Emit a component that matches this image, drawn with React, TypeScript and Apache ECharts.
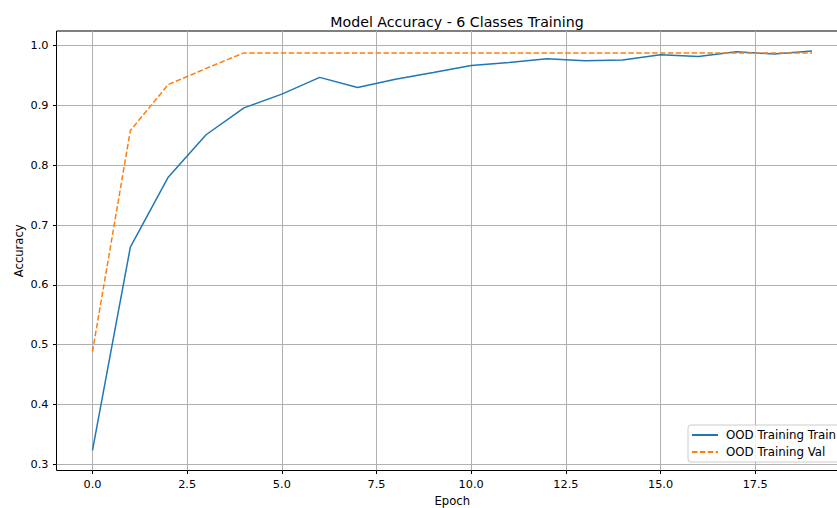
import React, { useEffect, useRef } from "react";
import * as echarts from "echarts";

const epochs = [0, 1, 2, 3, 4, 5, 6, 7, 8, 9, 10, 11, 12, 13, 14, 15, 16, 17, 18, 19];
const trainAcc = [0.323, 0.663, 0.780, 0.851, 0.896, 0.919, 0.947, 0.930, 0.944, 0.955, 0.967, 0.972, 0.978, 0.975, 0.976, 0.985, 0.982, 0.990, 0.986, 0.991];
const valAcc = [0.488, 0.858, 0.935, 0.962, 0.988, 0.988, 0.988, 0.988, 0.988, 0.988, 0.988, 0.988, 0.988, 0.988, 0.988, 0.988, 0.988, 0.988, 0.988, 0.988];
const xTicks = [0, 2.5, 5, 7.5, 10, 12.5, 15, 17.5];
const yTicks = [0.3, 0.4, 0.5, 0.6, 0.7, 0.8, 0.9, 1.0];
const seriesNames = ["OOD Training Train", "OOD Training Val"];

const FONT = "DejaVu Sans";
const LABEL_SIZE = 11.3;

export default function App() {
  const ref = useRef<HTMLDivElement>(null);
  useEffect(() => {
    if (!ref.current) return;
    const chart = echarts.init(ref.current, undefined, { renderer: "svg" });
    chart.setOption({
      animation: false,
      backgroundColor: "#ffffff",
      textStyle: { fontFamily: FONT },
      title: {
        text: "Model Accuracy - 6 Classes Training",
        left: 452,
        textAlign: "center",
        top: 10,
        textStyle: { fontFamily: FONT, fontSize: 14.2, fontWeight: "normal", color: "#000" },
      },
      grid: {
        left: 56.5,
        top: 31,
        right: 22,
        bottom: 37.5,
        show: true,
        borderColor: "#000",
        borderWidth: 1,
        containLabel: false,
        outerBoundsMode: "none",
      },
      legend: {
        orient: "vertical",
        left: 688,
        top: 425,
        data: seriesNames,
        itemWidth: 26,
        itemHeight: 14,
        itemGap: 5,
        padding: [4, 8, 4, 3],
        itemStyle: { opacity: 0 },
        backgroundColor: "rgba(255,255,255,0.8)",
        borderColor: "#cccccc",
        borderWidth: 1,
        borderRadius: 3,
        textStyle: { fontFamily: FONT, fontSize: 11.8, color: "#000", padding: [0, 0, 0, 3] },
      },
      xAxis: {
        type: "value",
        min: -0.95,
        max: 19.95,
        name: "Epoch",
        nameLocation: "middle",
        nameGap: 24,
        nameMoveOverlap: false,
        nameTextStyle: { fontFamily: FONT, fontSize: 11.6, color: "#000" },
        axisLine: { show: false, onZero: false },
        axisTick: { show: true, length: 3.5, inside: false, customValues: xTicks, lineStyle: { color: "#000" } },
        axisLabel: {
          customValues: xTicks,
          margin: 8,
          fontFamily: FONT,
          fontSize: LABEL_SIZE,
          color: "#000",
          formatter: (v: number) => v.toFixed(1),
        },
        splitLine: { show: true, lineStyle: { color: "#b0b0b0", width: 1 } },
      },
      yAxis: {
        type: "value",
        min: 0.2893,
        max: 1.0246,
        name: "Accuracy",
        nameLocation: "middle",
        nameGap: 32,
        nameMoveOverlap: false,
        nameTextStyle: { fontFamily: FONT, fontSize: 11.6, color: "#000" },
        axisLine: { show: false, onZero: false },
        axisTick: { show: true, length: 3.5, inside: false, customValues: yTicks, lineStyle: { color: "#000" } },
        axisLabel: {
          customValues: yTicks,
          margin: 8,
          fontFamily: FONT,
          fontSize: LABEL_SIZE,
          color: "#000",
          formatter: (v: number) => v.toFixed(1),
        },
        splitLine: { show: true, lineStyle: { color: "#b0b0b0", width: 1 } },
      },
      series: [
        {
          name: seriesNames[0],
          type: "line",
          data: epochs.map((e, i) => [e, trainAcc[i]]),
          symbol: "none",
          lineStyle: { color: "#1f77b4", width: 1.5 },
          itemStyle: { color: "#1f77b4" },
        },
        {
          name: seriesNames[1],
          type: "line",
          data: epochs.map((e, i) => [e, valAcc[i]]),
          symbol: "none",
          lineStyle: { color: "#ff7f0e", width: 1.5, type: [5.5, 2.4] },
          itemStyle: { color: "#ff7f0e" },
        },
      ],
    });
    return () => chart.dispose();
  }, []);
  return (
    <div style={{ position: "fixed", left: 0, top: 0, width: 837, height: 508, overflow: "hidden", background: "#fff" }}>
      <div ref={ref} style={{ width: 870, height: 508 }} />
    </div>
  );
}
